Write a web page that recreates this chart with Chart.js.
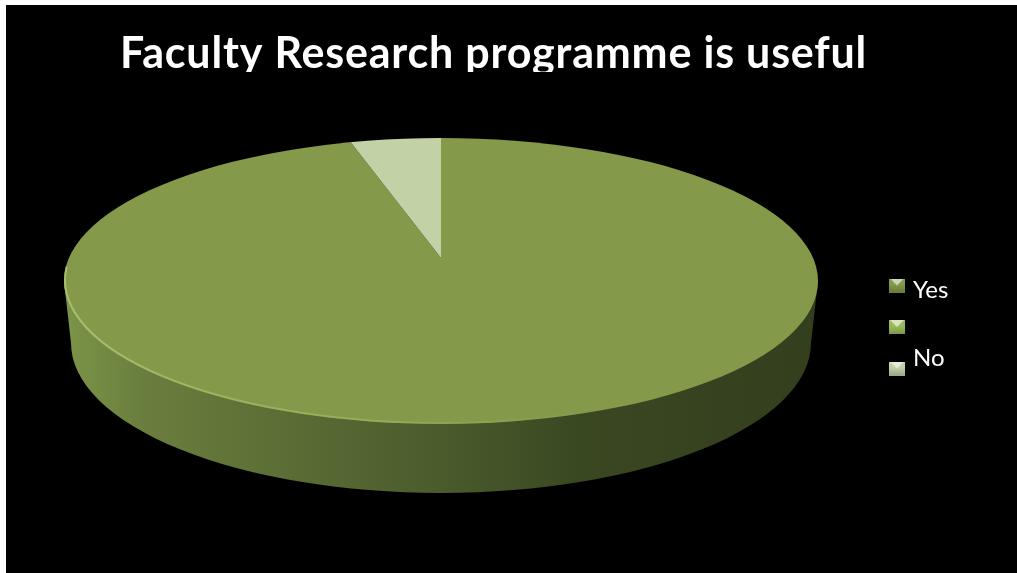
<!DOCTYPE html>
<html>
<head>
<meta charset="utf-8">
<title>Faculty Research programme is useful</title>
<script src="https://cdn.jsdelivr.net/npm/chart.js@4"></script>
<style>
html, body { margin: 0; padding: 0; background: #fff; overflow: hidden; }
canvas { position: absolute; left: 6px; top: 5px; background: #000; }
</style>
</head>
<body>
<canvas id="myCanvas" width="1011" height="568"></canvas>
<script>
var titleText = "Faculty Research programme is useful";
var categories = ["Yes", "", "No"];
var shares = [95, 0, 5];
var sliceColors = ["#84994A", "#9BBB59", "#C3D1A7"];

// page coords minus canvas offset
var top3d = { x: 435, y: 276, rx: 377, ry: 143 };
var low3d = { x: 435, y: 338, rx: 370, ry: 150 };
// the wedge apex sits above the ellipse centre (perspective in the original)
var apex = { x: 435, y: 253, rx: 288 * 1.8, ry: 120 * 1.8 };
var legendText = [{ x: 907, y: 285 }, { x: 907, y: 326 }, { x: 907, y: 353 }];

function marker(color) {
  var m = document.createElement("canvas");
  m.width = 16;
  m.height = 14;
  var g = m.getContext("2d");
  g.fillStyle = color;
  g.fillRect(0, 0, 16, 14);
  var shade = g.createLinearGradient(0, 6, 0, 14);
  shade.addColorStop(0, "rgba(0,0,0,0)");
  shade.addColorStop(1, "rgba(0,0,0,0.2)");
  g.fillStyle = shade;
  g.fillRect(0, 0, 16, 14);
  g.fillStyle = "rgba(255,255,255,0.6)";
  g.beginPath();
  g.moveTo(1, 0);
  g.lineTo(15, 0);
  g.lineTo(8, 7);
  g.closePath();
  g.fill();
  return m;
}

var pie3d = {
  id: "pie3d",
  afterLayout: function (chart) {
    // title is not centred on the slide
    chart.titleBlock.left += 32;
    chart.titleBlock.right += 32;
    // legend sits lower and further right than the library puts it
    chart.legend.left += 5;
    chart.legend.right += 5;
    chart.legend.top += 38;
    chart.legend.bottom += 38;
  },
  beforeDraw: function (chart) {
    // title font in the original is wider than Lato
    chart.ctx.letterSpacing = "0.8px";
  },
  beforeDatasetsDraw: function (chart) {
    // the original cuts the title off under its baseline
    var ctx = chart.ctx;
    ctx.letterSpacing = "0px";
    ctx.fillStyle = "#000";
    ctx.fillRect(0, 67, chart.width, 40);
  },
  beforeDatasetDraw: function (chart, args) {
    var ctx = chart.ctx;
    var arcs = args.meta.data;

    ctx.save();
    var side = ctx.createLinearGradient(top3d.x - top3d.rx, 0, top3d.x + top3d.rx, 0);
    side.addColorStop(0, "#7C9548");
    side.addColorStop(0.1, "#6A7F3E");
    side.addColorStop(0.3, "#5A6D35");
    side.addColorStop(0.5, "#4B5B2C");
    side.addColorStop(0.68, "#3A4822");
    side.addColorStop(1, "#333E1D");
    ctx.fillStyle = side;
    ctx.beginPath();
    ctx.moveTo(top3d.x - top3d.rx, top3d.y);
    ctx.lineTo(low3d.x - low3d.rx, low3d.y);
    ctx.ellipse(low3d.x, low3d.y, low3d.rx, low3d.ry, 0, Math.PI, 0, true);
    ctx.lineTo(top3d.x + top3d.rx, top3d.y);
    ctx.closePath();
    ctx.fill();
    ctx.restore();

    ctx.save();
    ctx.beginPath();
    ctx.ellipse(top3d.x, top3d.y, top3d.rx, top3d.ry, 0, 0, Math.PI * 2);
    ctx.clip();
    arcs.forEach(function (arc) {
      ctx.save();
      ctx.translate(apex.x, apex.y);
      ctx.scale(apex.rx / arc.outerRadius, apex.ry / arc.outerRadius);
      ctx.translate(-arc.x, -arc.y);
      arc.draw(ctx);
      ctx.restore();
    });
    ctx.restore();

    ctx.save();
    var rim = ctx.createLinearGradient(top3d.x - top3d.rx, 0, top3d.x + 150, 0);
    rim.addColorStop(0, "rgba(175,200,120,0.8)");
    rim.addColorStop(0.6, "rgba(160,185,100,0.55)");
    rim.addColorStop(1, "rgba(160,185,100,0)");
    ctx.strokeStyle = rim;
    ctx.lineWidth = 2;
    ctx.beginPath();
    ctx.ellipse(top3d.x, top3d.y - 1, top3d.rx - 1, top3d.ry, 0, Math.PI * 1.03, Math.PI * 0.3, true);
    ctx.stroke();
    ctx.restore();
    return false;
  },
  afterDraw: function (chart) {
    var ctx = chart.ctx;
    ctx.save();
    ctx.fillStyle = "#fff";
    ctx.font = "24px Lato";
    ctx.textBaseline = "middle";
    categories.forEach(function (label, i) {
      ctx.fillText(label, legendText[i].x, legendText[i].y);
    });
    ctx.restore();
  }
};

var pieChart = new Chart(document.getElementById("myCanvas").getContext("2d"), {
  type: "pie",
  data: {
    labels: categories,
    datasets: [{
      data: shares,
      backgroundColor: sliceColors,
      borderWidth: 0
    }]
  },
  plugins: [pie3d],
  options: {
    responsive: false,
    animation: false,
    layout: { padding: { right: 100 } },
    plugins: {
      tooltip: { enabled: false },
      title: {
        display: true,
        text: titleText,
        color: "#fff",
        font: { family: "Lato", size: 43, weight: "bold" },
        padding: { top: 23, bottom: 10 }
      },
      legend: {
        position: "right",
        labels: {
          usePointStyle: true,
          pointStyleWidth: 16,
          boxHeight: 14,
          padding: 27.5,
          font: { size: 14 },
          generateLabels: function () {
            return categories.map(function (label, i) {
              return {
                text: "",
                fillStyle: sliceColors[i],
                strokeStyle: sliceColors[i],
                lineWidth: 0,
                pointStyle: marker(sliceColors[i]),
                hidden: false,
                index: i
              };
            });
          }
        }
      }
    }
  }
});
</script>
</body>
</html>
